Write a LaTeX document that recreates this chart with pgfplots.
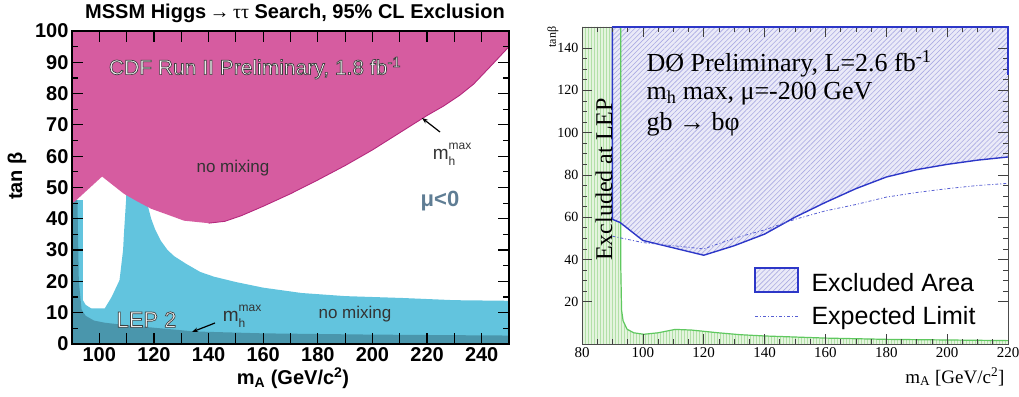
\documentclass[border=0pt]{standalone}
\usepackage{fontspec}
\setmainfont{Liberation Serif}
\setsansfont{Liberation Sans}
\usepackage{pgfplots}
\pgfplotsset{compat=1.18}
\usetikzlibrary{patterns.meta,arrows.meta}

\definecolor{cdfpink}{RGB}{214,92,160}
\definecolor{cdfpinkline}{RGB}{180,40,125}
\definecolor{lepcyan}{RGB}{98,196,222}
\definecolor{lepteal}{RGB}{74,150,172}
\definecolor{mublue}{RGB}{95,125,148}
\definecolor{dzblue}{RGB}{45,55,200}
\definecolor{dzhatchbg}{RGB}{234,234,248}
\definecolor{dzhatch}{RGB}{170,170,226}
\definecolor{lepgreen}{RGB}{95,200,95}
\definecolor{lepgreenbg}{RGB}{228,244,222}
\definecolor{lepgreenhatch}{RGB}{178,224,168}

\newcommand{\fs}[1]{\fontsize{#1}{#1}\selectfont}
\newcommand{\mhmax}{m\rlap{\raisebox{-0.6ex}{\fs{12}h}}\raisebox{1.0ex}{\fs{12}max}}
\newcommand{\outlined}[1]{\special{pdf:literal direct 2 Tr 0.7 w 0.25 0.25 0.25 RG}#1\special{pdf:literal direct 0 Tr}}

\begin{document}
\begin{tikzpicture}
\useasboundingbox (0,0) rectangle (1019pt,396pt);

% ---------------- Left panel (CDF) ----------------
\begin{axis}[
  at={(72pt,52pt)}, anchor=south west, scale only axis,
  width=437pt, height=313pt,
  xmin=90, xmax=250, ymin=0, ymax=100,
  xtick={90,100,...,250},
  xticklabels={,100,,120,,140,,160,,180,,200,,220,,240,},
  ytick={0,10,...,100}, minor ytick={5,15,...,95},
  tick align=inside,
  major tick length=11pt, minor tick length=6pt,
  every tick/.style={black, line width=1.2pt},
  axis line style={black, line width=2pt},
  /pgf/number format/assume math mode=true,
  xticklabel style={font=\sffamily\bfseries\fs{20}},
  yticklabel style={font=\sffamily\bfseries\fs{20}},
  axis on top,
]
\addplot[fill=lepcyan, draw=none] coordinates {
(90,0) (90,46) (94,46) (94,14) (95,12.5) (97,11.4) (102,11.4) (104.5,15)
(107.4,20.4) (108.7,30) (109,35) (109.8,46) (110,52) (116,52) (117.5,45)
(119,40) (120.5,36.5) (122.5,33) (125,30) (127.5,28) (132,25.5) (137,23) (142,21.5)
(150,19.8) (160,18) (174,16.3) (190,15.3) (211,14.7) (230,14) (250,13.8) (250,0)
} -- cycle;
\addplot[fill=lepteal, draw=none] coordinates {
(90,0) (90,46) (92,46) (92.5,20) (93.5,11) (95,9) (98,7.5) (102,6.8)
(110,6) (120,5.2) (135,4) (160,3.4) (200,3) (250,2.7) (250,0)
} -- cycle;
\addplot[fill=cdfpink, draw=none] coordinates {
(90,100) (90,45) (91,45.5) (101,53.5) (109,48) (114,45.5) (119,43.2)
(126,41) (131,39.4) (140,38.6) (146,39.2) (152,41) (160,44) (170,48)
(180,52.4) (190,57) (200,62) (210,67.5) (220,73) (226,76) (232,79.5)
(237,83) (243,88.5) (250,95) (250,100)
} -- cycle;
\addplot[cdfpinkline, line width=0.9pt] coordinates {
(140,38.6) (146,39.2) (152,41) (160,44) (170,48)
(180,52.4) (190,57) (200,62) (210,67.5) (220,73) (226,76) (232,79.5)
(237,83) (243,88.5) (250,95)
};
\end{axis}

% left panel texts
\node[font=\sffamily\bfseries\fs{20}] at (295pt,383pt)
  {MSSM Higgs\,\textmd{→}\,{\rmfamily\mdseries ττ} Search, 95\% CL Exclusion};
\node[font=\sffamily\fs{21}, text=white] at (255pt,328pt) {\outlined{CDF Run II Preliminary, 1.8 fb\textsuperscript{-1}}};
\node[font=\sffamily\fs{17}, text=black!80] at (233pt,228pt) {no mixing};
\node[font=\sffamily\fs{19}, text=black!80] at (452pt,242pt) {\mhmax};
\draw[-{Stealth[length=6pt]}, line width=1.2pt] (440pt,264pt) -- (422pt,278pt);
\node[font=\sffamily\bfseries\fs{22}, text=mublue] at (440pt,195pt) {μ<0};
\node[font=\sffamily\fs{22}, text=white] at (146.5pt,76.5pt) {\outlined{LEP 2}};
\node[font=\sffamily\fs{19}, text=black!80] at (242pt,80pt) {\mhmax};
\draw[-{Stealth[length=6pt]}, line width=1.2pt] (215pt,73pt) -- (192pt,64pt);
\node[font=\sffamily\fs{17}, text=black!80] at (355pt,82pt) {no mixing};
\node[font=\sffamily\bfseries\fs{20}] at (293pt,18pt) {m\textsubscript{A} (GeV/c\textsuperscript{2})};
\node[font=\sffamily\bfseries\fs{20}, rotate=90] at (17pt,220pt) {tan β};

% ---------------- Right panel (D0) ----------------
\begin{axis}[
  at={(582pt,52pt)}, anchor=south west, scale only axis,
  width=426pt, height=317pt,
  xmin=80, xmax=220, ymin=0, ymax=150,
  xtick={80,100,...,220}, minor x tick num=3,
  ytick={20,40,...,140}, minor y tick num=3,
  tick align=inside,
  major tick length=10pt, minor tick length=5pt,
  every tick/.style={black!75, line width=0.7pt},
  axis line style={black!70, line width=0.8pt},
  /pgf/number format/assume math mode=true,
  xticklabel style={font=\rmfamily\fs{15}},
  yticklabel style={font=\rmfamily\fs{14}},
  axis on top,
]
\addplot[fill=lepgreenbg, draw=none] coordinates {
(80,0) (80,150) (92.7,150) (92.7,40) (93,16) (93.5,11) (94.8,7) (97,5.3)
(100.3,4.6) (105,5.3) (110.6,6.9) (116,6.6) (124.8,5.3) (132,4.4) (140,3.8)
(160,2.8) (180,2.2) (200,1.9) (220,1.6) (220,0)
} -- cycle;
\addplot[pattern={Lines[angle=90,distance=3pt,line width=0.6pt]}, pattern color=lepgreenhatch, draw=none] coordinates {
(80,0) (80,150) (92.7,150) (92.7,40) (93,16) (93.5,11) (94.8,7) (97,5.3)
(100.3,4.6) (105,5.3) (110.6,6.9) (116,6.6) (124.8,5.3) (132,4.4) (140,3.8)
(160,2.8) (180,2.2) (200,1.9) (220,1.6) (220,0)
} -- cycle;
\addplot[fill=dzhatchbg, draw=none] coordinates {
(90,150) (90,59) (92.5,57.5) (100,49) (110,45.5) (120,42) (130,46.5) (140,52)
(150,60) (160,67) (170,73.5) (180,79) (190,82.5) (200,85) (210,87) (220,88.5) (220,150)
} -- cycle;
\addplot[pattern={Lines[angle=45,distance=3.5pt,line width=0.6pt]}, pattern color=dzhatch, draw=none] coordinates {
(90,150) (90,59) (92.5,57.5) (100,49) (110,45.5) (120,42) (130,46.5) (140,52)
(150,60) (160,67) (170,73.5) (180,79) (190,82.5) (200,85) (210,87) (220,88.5) (220,150)
} -- cycle;
\addplot[lepgreen, line width=1.2pt] coordinates {
(92.7,150) (92.7,40) (93,16) (93.5,11) (94.8,7) (97,5.3)
(100.3,4.6) (105,5.3) (110.6,6.9) (116,6.6) (124.8,5.3) (132,4.4) (140,3.8)
(160,2.8) (180,2.2) (200,1.9) (220,1.6)
};
\addplot[dzblue, line width=1.4pt] coordinates {
(90,150) (90,59) (92.5,57.5) (100,49) (110,45.5) (120,42) (130,46.5) (140,52)
(150,60) (160,67) (170,73.5) (180,79) (190,82.5) (200,85) (210,87) (220,88.5)
};
\addplot[dzblue!80, line width=0.8pt, dash pattern=on 3pt off 2pt on 1pt off 2pt] coordinates {
(90,51) (100,48) (110,46.5) (120,45) (130,50) (140,54) (150,59) (160,63)
(170,66) (180,69.5) (190,71.7) (200,73.5) (210,75) (220,76)
};
\end{axis}
\draw[dzblue, line width=1.4pt] (612.4pt,369pt) -- (1008pt,369pt) -- (1008pt,320.5pt);

% right panel texts
\node[anchor=base west, font=\rmfamily\fs{26}] at (643pt,324.3pt) {DØ Preliminary, L=2.6 fb\textsuperscript{-1}};
\node[anchor=base west, font=\rmfamily\fs{26}] at (643pt,296.7pt) {m\textsubscript{h} max, μ=-200 GeV};
\node[anchor=base west, font=\rmfamily\fs{26}] at (643pt,265.3pt) {gb → bφ};
\node[font=\rmfamily\fs{24}, rotate=90] at (604pt,216.5pt) {Excluded at LEP};
\draw[dzblue, line width=1.2pt, fill=dzhatchbg,
  postaction={pattern={Lines[angle=45,distance=3.5pt,line width=0.6pt]}, pattern color=dzhatch}]
  (755pt,104pt) rectangle (798pt,128pt);
\draw[dzblue, line width=1.2pt] (755pt,104pt) rectangle (798pt,128pt);
\node[anchor=base west, font=\sffamily\fs{25}] at (808pt,104pt) {Excluded Area};
\draw[dzblue!80, line width=0.8pt, dash pattern=on 3pt off 2pt on 1pt off 2pt] (755pt,80pt) -- (798pt,80pt);
\node[anchor=base west, font=\sffamily\fs{25}] at (808pt,71.5pt) {Expected Limit};
\node[font=\rmfamily\fs{12}, rotate=90] at (553pt,359pt) {tanβ};
\node[anchor=base east, font=\rmfamily\fs{19}] at (1008pt,13pt) {m\textsubscript{A} [GeV/c\textsuperscript{2}]};
\end{tikzpicture}
\end{document}
